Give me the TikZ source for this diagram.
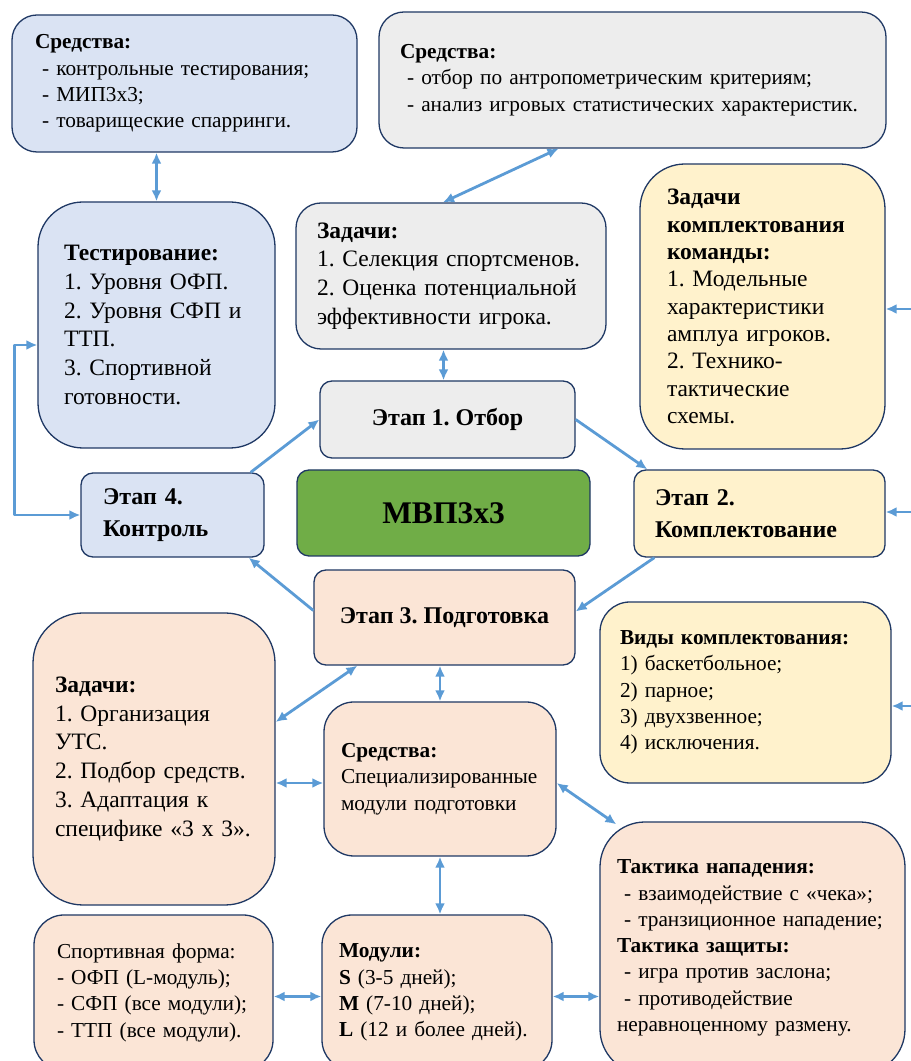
\documentclass[tikz,border=0pt]{standalone}
\usepackage{fontspec}
\setmainfont{Liberation Serif}
\usepackage{tikz}
\usetikzlibrary{arrows.meta}
\usetikzlibrary{shapes}
\frenchspacing

\definecolor{fillblue}{HTML}{DAE3F3}
\definecolor{fillgrey}{HTML}{EDEDED}
\definecolor{fillyellow}{HTML}{FFF2CC}
\definecolor{fillpeach}{HTML}{FBE5D6}
\definecolor{fillgreen}{HTML}{70AD47}
\definecolor{edgeblue}{HTML}{1F3864}
\definecolor{arrowblue}{HTML}{5B9BD5}

\newcommand{\smalltxt}{\fontsize{21.3bp}{26.3bp}\selectfont}
\newcommand{\largetxt}{\fontsize{23.5bp}{28.8bp}\selectfont}
\newcommand{\tighttxt}{\fontsize{23.5bp}{27.3bp}\selectfont}
\newcommand{\stagetxt}{\fontsize{24bp}{32bp}\selectfont\bfseries}
\newcommand{\mvptxt}{\fontsize{31.5bp}{38bp}\selectfont\bfseries}

\begin{document}
\begin{tikzpicture}[>=latex,line join=bevel,
  box/.style={draw=edgeblue,line width=1.3bp,rounded corners=#1,inner ysep=0pt,align=left},
  link/.style={draw=arrowblue,line width=2.8bp,{Latex[length=11bp,width=10bp]}-{Latex[length=11bp,width=10bp]}},
  linkto/.style={draw=arrowblue,line width=2.8bp,-{Latex[length=11bp,width=10bp]}},
]
\useasboundingbox (0bp,0bp) rectangle (911bp,1061bp);
\clip (0bp,0bp) rectangle (911bp,1061bp);
%%
\node (node_sred_test) at (184.5bp,977.5bp) [box=25bp,fill=fillblue,font=\smalltxt,minimum width=345bp,minimum height=137bp,inner xsep=23bp,text width=299bp] {\textbf{Средства:}\\\ - контрольные тестирования;\\\ - МИП3х3;\\\ - товарищеские спарринги.};
  \node (node_sred_otbor) at (632.5bp,981bp) [box=25bp,fill=fillgrey,font=\smalltxt,minimum width=507bp,minimum height=136bp,inner xsep=21bp,text width=465bp] {\textbf{Средства:}\\\ - отбор по антропометрическим критериям;\\\ - анализ игровых статистических характеристик.};
  \node (node_test) at (156.5bp,736bp) [box=45bp,fill=fillblue,font=\largetxt,minimum width=237bp,minimum height=246bp,inner xsep=26bp,text width=185bp] {\textbf{Тестирование:}\\1. Уровня ОФП.\\2. Уровня СФП и\\ТТП.\\3. Спортивной\\готовности.};
  \node (node_zad_otbor) at (451bp,785bp) [box=25bp,fill=fillgrey,font=\largetxt,minimum width=310bp,minimum height=146bp,inner xsep=21bp,text width=268bp] {\textbf{Задачи:}\\1. Селекция спортсменов.\\2. Оценка потенциальной\\эффективности игрока.};
  \node (node_zad_kompl) at (762.5bp,754.5bp) [box=45bp,fill=fillyellow,font=\tighttxt,minimum width=245bp,minimum height=285bp,inner xsep=27bp,text width=191bp] {\textbf{Задачи}\\\textbf{комплектования}\\\textbf{команды:}\\1. Модельные\\характеристики\\амплуа игроков.\\2. Технико-\\тактические\\схемы.};
  \node (node_etap1) at (447.5bp,641.5bp) [box=12bp,fill=fillgrey,font=\stagetxt,minimum width=255bp,minimum height=77bp,align=center] {Этап 1. Отбор};
  \node (node_mvp) at (443.5bp,548bp) [box=12bp,fill=fillgreen,font=\mvptxt,minimum width=293bp,minimum height=86bp,align=center] {МВП3х3};
  \node (node_etap4) at (172.5bp,546bp) [box=12bp,fill=fillblue,font=\stagetxt,minimum width=183bp,minimum height=84bp,inner xsep=22bp,text width=139bp] {Этап 4.\\Контроль};
  \node (node_etap2) at (759.5bp,547.5bp) [box=12bp,fill=fillyellow,font=\stagetxt,minimum width=251bp,minimum height=87bp,inner xsep=21bp,text width=209bp] {Этап 2.\\Комплектование};
  \node (node_etap3) at (444.5bp,443.5bp) [box=12bp,fill=fillpeach,font=\stagetxt,minimum width=261bp,minimum height=95bp,align=center] {Этап 3. Подготовка};
  \node (node_vidy) at (745.5bp,368.5bp) [box=30bp,fill=fillyellow,font=\smalltxt,minimum width=291bp,minimum height=181bp,inner xsep=20bp,text width=251bp] {\textbf{Виды комплектования:}\\1) баскетбольное;\\2) парное;\\3) двухзвенное;\\4) исключения.};
  \node (node_zad_podg) at (154bp,302bp) [box=50bp,fill=fillpeach,font=\largetxt,minimum width=242bp,minimum height=292bp,inner xsep=22bp,text width=198bp] {\textbf{Задачи:}\\1. Организация\\УТС.\\2. Подбор средств.\\3. Адаптация к\\специфике «3 х 3».};
  \node (node_sred_podg) at (440bp,282bp) [box=30bp,fill=fillpeach,font=\smalltxt,minimum width=232bp,minimum height=154bp,inner xsep=17bp,text width=198bp] {\textbf{Средства:}\\Специализированные\\модули подготовки};
  \node (node_taktika) at (752.5bp,113bp) [box=45bp,fill=fillpeach,font=\smalltxt,minimum width=305bp,minimum height=252bp,inner xsep=17bp,text width=271bp] {\textbf{Тактика нападения:}\\\ - взаимодействие с «чека»;\\\ - транзиционное нападение;\\\textbf{Тактика защиты:}\\\ - игра против заслона;\\\ - противодействие\\неравноценному размену.};
  \node (node_forma) at (153.5bp,68.5bp) [box=30bp,fill=fillpeach,font=\smalltxt,minimum width=239bp,minimum height=155bp,inner xsep=23bp,text width=193bp] {Спортивная форма:\\- ОФП (L-модуль);\\- СФП (все модули);\\- ТТП (все модули).};
  \node (node_moduli) at (437bp,68.5bp) [box=30bp,fill=fillpeach,font=\smalltxt,minimum width=230bp,minimum height=155bp,inner xsep=17bp,text width=196bp] {\textbf{Модули:}\\\textbf{S} (3-5 дней);\\\textbf{M} (7-10 дней);\\\textbf{L} (12 и более дней).};
%
  \coordinate (in_kompl) at (911bp,752bp);
  \coordinate (in_etap2) at (911bp,549bp);
  \coordinate (in_vidy) at (911bp,355bp);
%
  \draw [link] (node_test.north) -- (node_test.north |- node_sred_test.south);
  \draw [link] ([xshift=-74bp]node_sred_otbor.south) -- ([xshift=-8bp]node_zad_otbor.north);
  \draw [link] ([xshift=-4bp]node_etap1.north) -- ([xshift=-4bp]node_etap1.north |- node_zad_otbor.south);
  \draw [linkto] ([xshift=-14bp]node_etap4.north east) -- (node_etap1.west);
  \draw [linkto] (node_etap1.east) -- ([xshift=14bp]node_etap2.north west);
  \draw [linkto] ([xshift=21bp]node_etap2.south west) -- ([yshift=6bp]node_etap3.east);
  \draw [linkto] ([yshift=7bp]node_etap3.west) -- ([xshift=-16bp]node_etap4.south east);
  \draw [link] ([yshift=-20bp]node_test.west) -- ++(-23bp,0bp) |- (node_etap4.west);
  \draw [linkto] (in_kompl) -- (in_kompl -| node_zad_kompl.east);
  \draw [linkto] (in_etap2) -- (in_etap2 -| node_etap2.east);
  \draw [linkto] (in_vidy) -- (in_vidy -| node_vidy.east);
  \draw [link] ([xshift=44bp]node_etap3.south west) -- ([yshift=37bp]node_zad_podg.east);
  \draw [link] (node_sred_podg.north) -- (node_sred_podg.north |- node_etap3.south);
  \draw [link] ([yshift=-4bp]node_sred_podg.west) -- ([yshift=-4bp]node_sred_podg.west -| node_zad_podg.east);
  \draw [link] ([yshift=-4bp]node_sred_podg.east) -- ([xshift=17bp,yshift=-3bp]node_taktika.north west);
  \draw [link] (node_sred_podg.south) -- (node_sred_podg.south |- node_moduli.north);
  \draw [link] ([yshift=-4bp]node_forma.east) -- ([yshift=-4bp]node_forma.east -| node_moduli.west);
  \draw [link] ([yshift=-4bp]node_moduli.east) -- ([yshift=-4bp]node_moduli.east -| node_taktika.west);
%
\end{tikzpicture}
\end{document}
